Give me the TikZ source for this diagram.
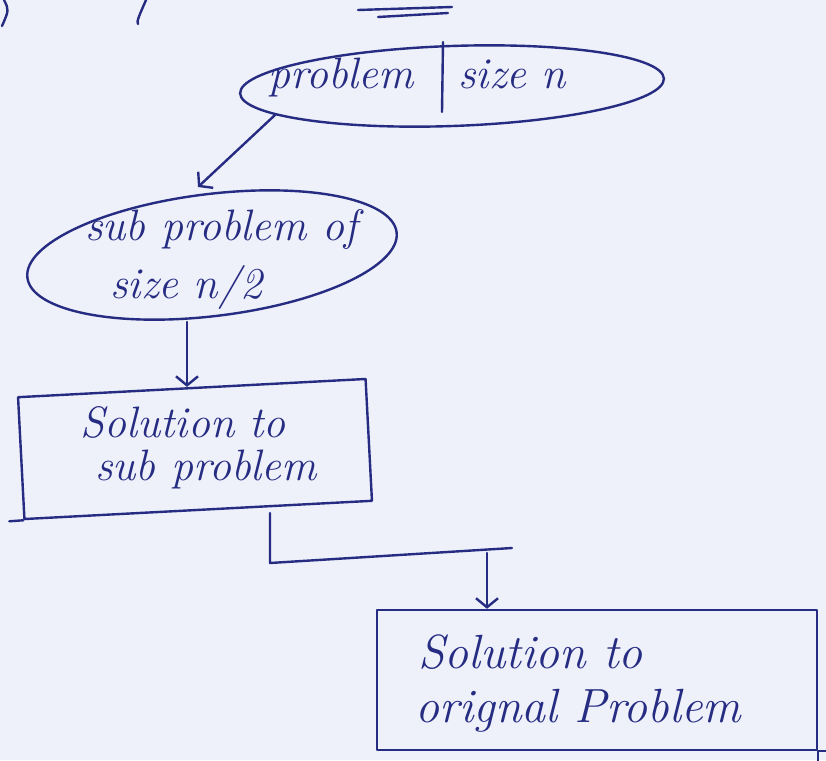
\documentclass[tikz,border=0pt]{standalone}
\usetikzlibrary{arrows.meta,shapes.geometric}
\definecolor{paper}{RGB}{238,240,250}
\definecolor{ink}{RGB}{38,44,130}
\begin{document}
\begin{tikzpicture}[x=1pt,y=-1pt,
  pen/.style={draw=ink, line width=2.4pt, line cap=round, line join=round},
  tip/.style={-{Straight Barb[length=9pt,width=22pt,line width=2.4pt]}},
  hand/.style={text=ink, font=\fontsize{44}{50}\selectfont\itshape, inner sep=0pt, anchor=base west},
  big/.style={font=\fontsize{48}{54}\selectfont\itshape},
  oval/.style={pen, ellipse, inner sep=0pt},
  box/.style={pen, rectangle, inner sep=0pt},
]
% paper
\fill[paper] (0,0) rectangle (826,760);
\useasboundingbox (0,0) rectangle (826,760);

% stray pen strokes along the top edge
\draw[pen] (4,0) .. controls (9,10) .. (2,26);
\draw[pen] (146,0) .. controls (140,14) and (136,22) .. (138,24);
\draw[pen] (358,10) -- (452,7);
\draw[pen] (378,17) -- (448,13);

% shapes
\node[oval, minimum width=424pt, minimum height=80pt, rotate=2] (e1) at (452,86) {};
\node[oval, minimum width=372pt, minimum height=122pt, rotate=7] (e2) at (212,255) {};
\node[box, minimum width=348pt, minimum height=122pt, rotate=3] (r1) at (195,449) {};
\node[box, minimum width=440pt, minimum height=140pt] (r2) at (597,680) {};

% labels
\node[hand] (t1a) at (268,88) {problem};
\node[hand] (t1b) at (458,88) {size n};
\draw[pen] (443,42) -- (442,112);
\node[hand] (t2a) at (85,240) {sub problem of};
\node[hand] (t2b) at (110,298) {size n/2};
\node[hand] (t3a) at (80,437) {Solution to};
\node[hand] (t3b) at (95,480) {sub problem};
\node[hand, big] (t4a) at (418,668) {Solution to};
\node[hand, big] (t4b) at (415,722) {orignal Problem};

% loose ends of the boxes
\draw[pen] (r1.south west) -- ++(-14,1);
\draw[pen] (r2.south east) -- ++(0,14);
\draw[pen] (r2.south east) -- ++(10,0);

% connectors
\coordinate (a1s) at (275,115);
\coordinate (a1e) at (198,187);
\draw[pen, tip] (a1s) -- (a1e);
\coordinate (a2s) at (187,322);
\draw[pen, tip] (a2s) -- (a2s |- r1.north);
\coordinate (ls) at (270,513);
\coordinate (lc) at (270,563);
\coordinate (le) at (512,548);
\draw[pen] (ls) -- (lc) -- (le);
\coordinate (a3s) at (487,553);
\draw[pen, tip] (a3s) -- (a3s |- r2.north) ;
\end{tikzpicture}
\end{document}
